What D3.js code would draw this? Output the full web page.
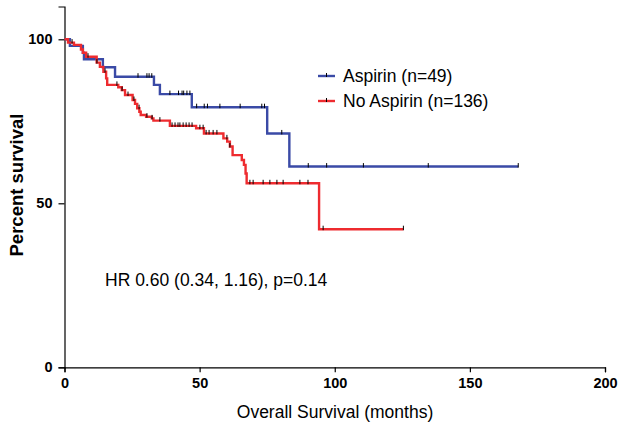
<!DOCTYPE html>
<html>
<head>
<meta charset="utf-8">
<script src="https://cdn.jsdelivr.net/npm/d3@7"></script>
<style>
  body { margin: 0; background: #fff; }
  svg text { font-family: Arial, "Liberation Sans", sans-serif; }
</style>
</head>
<body>
<svg width="624" height="429"></svg>
<script>
// Kaplan-Meier steps: [month, percent surviving]
var aspirinSteps = [[2.0, 98.0], [6.8, 95.9], [7.2, 93.9], [14.2, 91.5], [18.7, 88.6],
    [33.1, 86.1], [35.3, 83.3], [47.1, 79.3], [75.0, 71.3], [83.2, 61.2]];
var aspirinEnd = 167.9;
var aspirinCensored = [27.2, 30.5, 31.3, 32.3, 39, 42.2, 43.5, 44.1, 45.3, 46.4, 48.9,
    51.7, 52.9, 57.5, 65, 73, 74, 80.4, 90.2, 97, 110.6, 134.6, 167.9];

var noAspirinSteps = [[1.3, 99.0], [3.5, 98.3], [6.1, 96.9], [6.8, 95.9], [8.0, 94.7],
    [11.9, 92.9], [13.1, 91.6], [14.4, 90.1], [15.4, 88.1], [15.8, 86.1], [19.9, 85.4],
    [21.2, 84.5], [22.4, 83.0], [25.2, 81.5], [26.1, 80.3], [26.9, 79.0], [27.7, 77.9],
    [28.2, 76.9], [30.2, 76.4], [32.3, 75.9], [32.9, 75.2], [39.0, 73.6], [48.7, 72.9],
    [51.6, 71.3], [58.8, 69.8], [60.2, 68.8], [61.2, 67.3], [62.2, 64.7], [65.6, 63.2],
    [66.4, 61.7], [67.0, 59.1], [67.4, 56.1], [94.2, 42.1]];
var noAspirinEnd = 125.4;
var noAspirinCensored = [2.8, 8.7, 12.0, 15.0, 19.4, 21.3, 23.5, 25.7, 27.6, 30.5, 32.4,
    35.3, 39.8, 40.9, 42.0, 42.7, 43.9, 45.0, 46.1, 47.2, 50.1, 51.3, 52.4, 53.5, 55.0,
    56.4, 60.1, 61.2, 68.6, 69.8, 73.5, 76.0, 78.6, 80.9, 87.1, 90.1, 95.7, 125.4];

var xTicks = [0, 50, 100, 150, 200];
var yTicks = [0, 50, 100];

var groups = [
    {name: 'Aspirin (n=49)', color: '#3a4aa6', steps: aspirinSteps, end: aspirinEnd, censored: aspirinCensored},
    {name: 'No Aspirin (n=136)', color: '#ee2b2f', steps: noAspirinSteps, end: noAspirinEnd, censored: noAspirinCensored}
];

var svg = d3.select('svg');

var x = d3.scaleLinear().domain([0, 200]).range([64.5, 605]);
var y = d3.scaleLinear().domain([0, 110]).range([367.3, 6.5]);

// axes
var xAxis = d3.axisBottom(x).tickValues(xTicks).tickSizeOuter(0).tickSize(5).tickPadding(5);
var yAxis = d3.axisLeft(y).tickValues(yTicks).tickSizeOuter(0).tickSize(6).tickPadding(6);

var xg = svg.append('g')
    .attr('transform', 'translate(0,' + y(0) + ')')
    .call(xAxis);
var yg = svg.append('g')
    .attr('transform', 'translate(' + x(0) + ',0)')
    .call(yAxis);

[xg, yg].forEach(function(g) {
    g.select('.domain').attr('stroke', '#000').attr('stroke-width', 1.2);
    g.selectAll('.tick line').attr('stroke', '#000').attr('stroke-width', 1.2);
    g.selectAll('.tick text')
        .attr('fill', '#000')
        .style('font-family', 'Arial, "Liberation Sans", sans-serif')
        .style('font-size', '14.5px')
        .style('font-weight', 'bold');
});

// survival step at time t
function survivalAt(steps, t) {
    var s = 100;
    steps.forEach(function(d) { if (d[0] <= t) s = d[1]; });
    return s;
}

var line = d3.line()
    .x(function(d) { return x(d[0]); })
    .y(function(d) { return y(d[1]); })
    .curve(d3.curveStepAfter);

groups.forEach(function(g) {
    var pts = [[0, 100]].concat(g.steps);
    pts.push([g.end, g.steps[g.steps.length - 1][1]]);

    svg.append('path')
        .datum(pts)
        .attr('fill', 'none')
        .attr('stroke', g.color)
        .attr('stroke-width', 2.4)
        .attr('d', line);

    svg.append('g').selectAll('line')
        .data(g.censored)
        .enter()
        .append('line')
        .attr('x1', function(d) { return x(d); })
        .attr('x2', function(d) { return x(d); })
        .attr('y1', function(d) { return y(survivalAt(g.steps, d)) + 1; })
        .attr('y2', function(d) { return y(survivalAt(g.steps, d)) - 3.5; })
        .attr('stroke', '#000')
        .attr('stroke-width', 1);
});

// legend
var legend = svg.append('g');
groups.forEach(function(g, i) {
    var ly = 76 + i * 25;
    legend.append('line')
        .attr('x1', 318).attr('x2', 335)
        .attr('y1', ly).attr('y2', ly)
        .attr('stroke', g.color).attr('stroke-width', 2.4);
    legend.append('line')
        .attr('x1', 326.5).attr('x2', 326.5)
        .attr('y1', ly + 1).attr('y2', ly - 3)
        .attr('stroke', '#000').attr('stroke-width', 1);
    legend.append('text')
        .attr('x', 343).attr('y', ly + 5.5)
        .style('font-size', '17.5px')
        .attr('fill', '#000')
        .text(g.name);
});

// annotation
svg.append('text')
    .attr('x', 105).attr('y', 286)
    .style('font-size', '17.5px')
    .attr('fill', '#000')
    .text('HR 0.60 (0.34, 1.16), p=0.14');

// axis titles
svg.append('text')
    .attr('x', 335).attr('y', 418)
    .attr('text-anchor', 'middle')
    .style('font-size', '17.5px')
    .attr('fill', '#000')
    .text('Overall Survival (months)');

svg.append('text')
    .attr('transform', 'translate(23,185) rotate(-90)')
    .attr('text-anchor', 'middle')
    .style('font-size', '18.5px')
    .style('font-weight', 'bold')
    .attr('fill', '#000')
    .text('Percent survival');
</script>
</body>
</html>
